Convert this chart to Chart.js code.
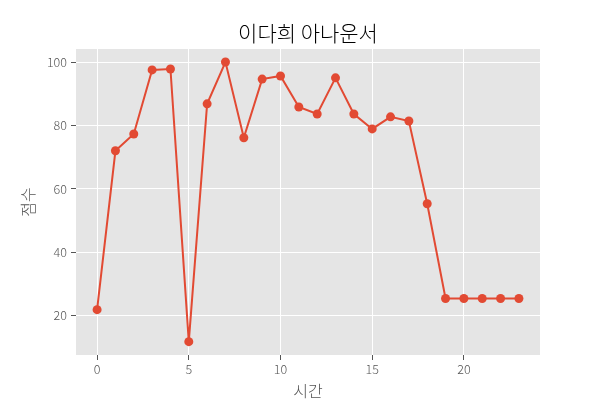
<!DOCTYPE html>
<html><head><meta charset="utf-8">
<script src="https://cdn.jsdelivr.net/npm/chart.js@4"></script>
<style>html,body{margin:0;padding:0;background:#fff}#w{width:600px;height:400px}</style>
</head><body><div id="w"><canvas id="c" width="600" height="400"></canvas></div>
<script>
const chartTitle = "이다희 아나운서";
const xLabel = "시간";
const yLabel = "점수";
const hours = [0,1,2,3,4,5,6,7,8,9,10,11,12,13,14,15,16,17,18,19,20,21,22,23];
const scores = [21.9,72.0,77.3,97.5,97.8,11.8,86.8,100,76.1,94.6,95.6,85.8,83.6,95.0,83.6,78.9,82.7,81.4,55.3,25.4,25.4,25.4,25.4,25.4];
const xTicks = [0,5,10,15,20];
const yTicks = [20,40,60,80,100];

const korFont = '"Noto Sans CJK KR", "DejaVu Sans", sans-serif';
const tickFont = {family: '"Noto Sans CJK KR", sans-serif', size: 12.5, weight: 300};

const bgPlugin = {
  id: 'bg',
  beforeDraw(chart) {
    const {ctx, chartArea: a} = chart;
    ctx.save();
    ctx.fillStyle = '#E5E5E5';
    ctx.fillRect(a.left, a.top, a.right - a.left, a.bottom - a.top);
    ctx.restore();
  },
  afterDraw(chart) {
    const {ctx, chartArea: a} = chart;
    const cx = (a.left + a.right) / 2;
    ctx.save();
    ctx.fillStyle = '#000';
    ctx.textAlign = 'center';
    ctx.textBaseline = 'middle';
    ctx.font = '300 21px ' + korFont;
    ctx.fillText(chartTitle, cx, 33);
    ctx.fillStyle = '#555555';
    ctx.font = '300 16px ' + korFont;
    ctx.fillText(xLabel, cx, 391);
    ctx.translate(28, (a.top + a.bottom) / 2);
    ctx.rotate(-Math.PI / 2);
    ctx.fillText(yLabel, 0, 0);
    ctx.restore();
  }
};

new Chart(document.getElementById('c'), {
  type: 'line',
  data: {
    datasets: [{
      data: hours.map((h, i) => ({x: h, y: scores[i]})),
      borderColor: '#E24A33',
      backgroundColor: '#E24A33',
      borderWidth: 2,
      pointRadius: 4.5,
      pointBorderWidth: 0,
      pointBackgroundColor: '#E24A33',
      tension: 0
    }]
  },
  options: {
    responsive: false,
    animation: false,
    layout: {padding: {top: 49, right: 60, left: 0, bottom: 0}},
    plugins: {legend: {display: false}, tooltip: {enabled: false}, title: {display: false}},
    scales: {
      x: {
        type: 'linear',
        min: -1.15, max: 24.15,
        afterFit(s) { s.height = 45; },
        afterBuildTicks(s) { s.ticks = xTicks.map(v => ({value: v})); },
        grid: {color: '#FFFFFF', lineWidth: 1, tickColor: '#555555', tickLength: 5, drawTicks: true},
        border: {display: false},
        ticks: {color: '#555555', font: tickFont, padding: 2, maxRotation: 0}
      },
      y: {
        type: 'linear',
        min: 7.6, max: 104.1,
        afterFit(s) { s.width = 76; },
        afterBuildTicks(s) { s.ticks = yTicks.map(v => ({value: v})); },
        grid: {color: '#FFFFFF', lineWidth: 1, tickColor: '#555555', tickLength: 5, drawTicks: true},
        border: {display: false},
        ticks: {color: '#555555', font: tickFont, padding: 4}
      }
    }
  },
  plugins: [bgPlugin]
});
</script>
</body></html>
